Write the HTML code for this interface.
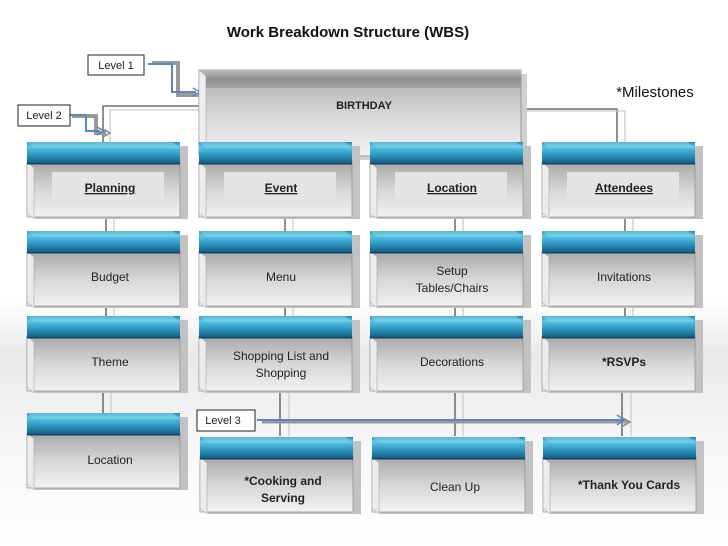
<!DOCTYPE html>
<html><head><meta charset="utf-8"><style>
html,body{margin:0;padding:0;background:#fff;}
svg{display:block;}
text{font-family:"Liberation Sans","DejaVu Sans",sans-serif;}
.t{font-size:12px;fill:#222;text-anchor:middle;}
.b{font-weight:bold;}
</style></head><body>
<svg width="728" height="546" viewBox="0 0 728 546" xmlns="http://www.w3.org/2000/svg">
<defs>
<linearGradient id="bg" x1="0" y1="0" x2="0" y2="1">
<stop offset="0" stop-color="#fff"/><stop offset="0.55" stop-color="#fff"/><stop offset="0.65" stop-color="#e9e9e9"/><stop offset="0.8" stop-color="#f6f6f6"/><stop offset="1" stop-color="#fff"/></linearGradient>
<linearGradient id="body" x1="0" y1="0" x2="0" y2="1">
<stop offset="0" stop-color="#a8a8a8"/><stop offset="0.5" stop-color="#d6d6d6"/><stop offset="1" stop-color="#f2f2f2"/></linearGradient>
<linearGradient id="blue" x1="0" y1="0" x2="0" y2="1">
<stop offset="0" stop-color="#2a7fa8"/><stop offset="0.2" stop-color="#5ec8e8"/><stop offset="0.55" stop-color="#2f9cc4"/><stop offset="1" stop-color="#14577f"/></linearGradient>
<linearGradient id="gtop" x1="0" y1="0" x2="0" y2="1">
<stop offset="0" stop-color="#bdbdbd"/><stop offset="0.5" stop-color="#8f8f8f"/><stop offset="1" stop-color="#a5a5a5"/></linearGradient>
<symbol id="box" overflow="visible">
<rect x="8" y="4" width="153" height="73" fill="#c2c2c2"/>
<rect x="0" y="20" width="153" height="55" fill="url(#body)" stroke="#8c8c8c" stroke-width="0.7"/>
<polygon points="0,20 7,26 7,77 0,71" fill="#ececec" stroke="#999" stroke-width="0.5"/>
<rect x="0" y="0" width="153" height="22" fill="url(#blue)"/>
<polygon points="0,0 146,0 153,6 7,6" fill="#7fd6ef" opacity="0.6"/>
<rect x="0" y="21" width="153" height="1.5" fill="#0f4466"/>
</symbol>
<symbol id="box1" overflow="visible">
<use href="#box"/>
<rect x="25" y="30" width="112" height="28" fill="#e4e4e4"/>
</symbol>
</defs>
<rect width="728" height="546" fill="url(#bg)"/>

<text x="348" y="37" text-anchor="middle" style="font-size:15px;font-weight:bold;fill:#111">Work Breakdown Structure (WBS)</text>
<text x="655" y="97" text-anchor="middle" style="font-size:15px;fill:#111">*Milestones</text>

<!-- connectors -->
<g fill="none">
<path d="M103 142 V106 H200" stroke="#555" stroke-width="1.3"/>
<path d="M110 142 V110 H200" stroke="#ccc" stroke-width="1.3"/>
<path d="M525 109 H617 V142" stroke="#555" stroke-width="1.3"/>
<path d="M525 111 H625 V142" stroke="#ccc" stroke-width="1.3"/>
<g stroke="#555" stroke-width="1.3">
<path d="M285 157 V142"/><path d="M455 157 V142"/>
<path d="M106 218 V231 M106 305 V316 M103 390 V414"/>
<path d="M285 218 V231 M285 305 V316 M280 390 V436"/>
<path d="M455 218 V231 M455 305 V316 M455 390 V436"/>
<path d="M625 218 V231 M625 305 V316 M622 390 V436"/>
</g>
<g stroke="#ccc" stroke-width="1.3">
<path d="M114 218 V231 M114 305 V316 M111 390 V414"/>
<path d="M293 218 V231 M293 305 V316 M289 390 V436"/>
<path d="M463 218 V231 M463 305 V316 M463 390 V436"/>
<path d="M633 218 V231 M633 305 V316 M631 390 V436"/>
</g>
<!-- level arrows -->
<path d="M152 63 H178 V95 H202" stroke="#999" stroke-width="4"/>
<path d="M148 64 H172 V92 H196" stroke="#5a86c2" stroke-width="2"/>
<path d="M193 88 L200 92 L193 96" stroke="#5a86c2" stroke-width="1.5"/>
<path d="M200 91 L207 95 L200 99" stroke="#888" stroke-width="1.5"/>
<path d="M72 116 H96 V133 H106" stroke="#999" stroke-width="4"/>
<path d="M70 115 H86 V131 H100" stroke="#5a86c2" stroke-width="2"/>
<path d="M97 127 L104 131 L97 135" stroke="#5a86c2" stroke-width="1.5"/>
<path d="M103 129 L110 133 L103 137" stroke="#888" stroke-width="1.5"/>
<path d="M262 422 H628" stroke="#999" stroke-width="3"/>
<path d="M257 420 H622" stroke="#5a86c2" stroke-width="2"/>
<path d="M617 415 L624 420 L617 425" stroke="#5a86c2" stroke-width="1.5"/>
<path d="M623 418 L630 422 L623 426" stroke="#888" stroke-width="1.5"/>
</g>

<!-- birthday box -->
<rect x="207" y="74" width="320" height="86" fill="#d0d0d0"/>
<rect x="199" y="70" width="322" height="86" fill="url(#body)" stroke="#888" stroke-width="0.8"/>
<rect x="199" y="70" width="322" height="18" fill="url(#gtop)"/>
<polygon points="199,70 206,76 206,160 199,154" fill="#eee" stroke="#999" stroke-width="0.5"/>
<text x="364" y="109" class="t b" style="font-size:11px">BIRTHDAY</text>

<!-- level labels -->
<rect x="88" y="55" width="56" height="20" fill="#fff" stroke="#222"/>
<text x="116" y="69" class="t" style="font-size:11px">Level 1</text>
<rect x="18" y="105" width="52" height="21" fill="#fff" stroke="#222"/>
<text x="44" y="119" class="t" style="font-size:11px">Level 2</text>
<rect x="197" y="410" width="58" height="21" fill="#fff" stroke="#222"/>
<text x="223" y="424" class="t" style="font-size:11px">Level 3</text>

<!-- row 1 -->
<use href="#box1" x="27" y="142"/><use href="#box1" x="199" y="142"/>
<use href="#box1" x="370" y="142"/><use href="#box1" x="542" y="142"/>
<g class="t b" text-decoration="underline">
<text x="110" y="192" class="t b" text-decoration="underline">Planning</text>
<text x="281" y="192" class="t b" text-decoration="underline">Event</text>
<text x="452" y="192" class="t b" text-decoration="underline">Location</text>
<text x="624" y="192" class="t b" text-decoration="underline">Attendees</text>
</g>
<!-- row 2 -->
<use href="#box" x="27" y="231"/><use href="#box" x="199" y="231"/>
<use href="#box" x="370" y="231"/><use href="#box" x="542" y="231"/>
<text x="110" y="281" class="t">Budget</text>
<text x="281" y="281" class="t">Menu</text>
<text x="452" y="275" class="t">Setup</text><text x="452" y="292" class="t">Tables/Chairs</text>
<text x="624" y="281" class="t">Invitations</text>
<!-- row 3 -->
<use href="#box" x="27" y="316"/><use href="#box" x="199" y="316"/>
<use href="#box" x="370" y="316"/><use href="#box" x="542" y="316"/>
<text x="110" y="366" class="t">Theme</text>
<text x="281" y="360" class="t">Shopping List and</text><text x="281" y="377" class="t">Shopping</text>
<text x="452" y="366" class="t">Decorations</text>
<text x="624" y="366" class="t b">*RSVPs</text>
<!-- row 4 -->
<use href="#box" x="27" y="413"/>
<use href="#box" x="200" y="437"/><use href="#box" x="372" y="437"/><use href="#box" x="543" y="437"/>
<text x="110" y="464" class="t">Location</text>
<text x="283" y="485" class="t b">*Cooking and</text><text x="283" y="502" class="t b">Serving</text>
<text x="455" y="491" class="t">Clean Up</text>
<text x="629" y="489" class="t b">*Thank You Cards</text>
</svg>
</body></html>
